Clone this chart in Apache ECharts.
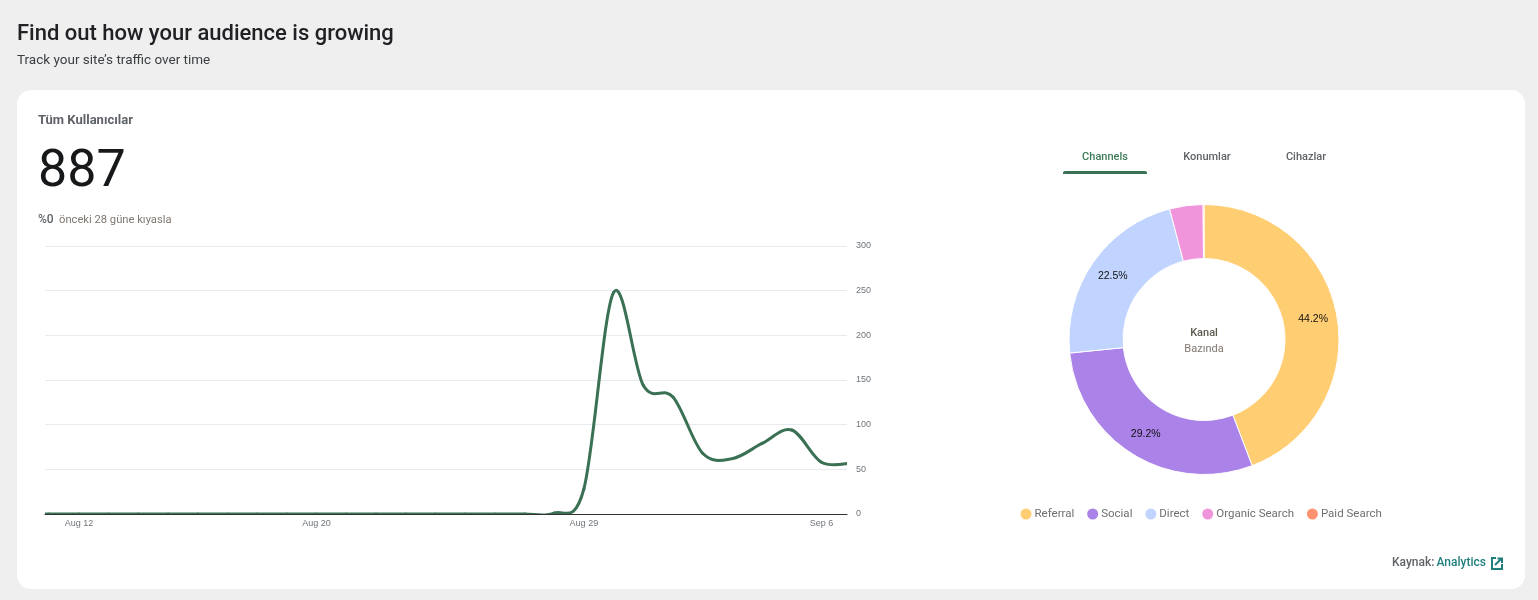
<!DOCTYPE html>
<html><head><meta charset="utf-8">
<style>html,body{margin:0;padding:0;background:#efefef}#c{width:1538px;height:600px}</style>
<script src="https://cdn.jsdelivr.net/npm/echarts@6/dist/echarts.min.js"></script>
</head><body><div id="c"></div>
<script>
const days = ['Aug 10','Aug 11','Aug 12','Aug 13','Aug 14','Aug 15','Aug 16','Aug 17','Aug 18','Aug 19','Aug 20','Aug 21','Aug 22','Aug 23','Aug 24','Aug 25','Aug 26','Aug 27','Aug 28','Aug 29','Aug 30','Aug 31','Sep 1','Sep 2','Sep 3','Sep 4','Sep 5','Sep 6','Sep 7'];
const users = [0,0,0,0,0,0,0,0,0,0,0,0,0,0,0,0,0,0,1,28,248,144,131,68,62,79,94,58,57];
const tickDays = [2,10,19,27];
const channels = ['Referral','Social','Direct','Organic Search','Paid Search'];
const shares = [44.2,29.2,22.5,4.0,0.1];
const channelColors = ['#ffce73','#aa82e8','#c0d4ff','#f095dc','#ff9270'];
const tabs = ['Channels','Konumlar','Cihazlar'];

const SANS = 'Roboto, "Noto Sans", sans-serif';
const TENSION = 1/6;
const t = (x,y,text,size,fill,weight,align,family) => ({type:'text',z:5,x,y,style:{text,font:`${weight||400} ${size}px ${family||SANS}`,fill,align:align||'left',verticalAlign:'middle'}});
const iconStroke = {stroke:'#1f7f7c',lineWidth:2,fill:null};

// Draws one curved segment between neighbouring days, positioned by the axes.
function renderSegment(params, api){
  const i = params.dataIndex, n = users.length;
  if (i >= n-1) return null;
  const p = k => api.coord([Math.max(0,Math.min(n-1,k)), users[Math.max(0,Math.min(n-1,k))]]);
  const a = p(i-1), b = p(i), c = p(i+1), d = p(i+2);
  return {type:'bezierCurve',
    shape:{x1:b[0],y1:b[1],x2:c[0],y2:c[1],
      cpx1:b[0]+(c[0]-a[0])*TENSION,cpy1:b[1]+(c[1]-a[1])*TENSION,
      cpx2:c[0]-(d[0]-b[0])*TENSION,cpy2:c[1]-(d[1]-b[1])*TENSION},
    style:{stroke:'#3a7053',lineWidth:3,fill:null,lineCap:'round'}};
}

const chart = echarts.init(document.getElementById('c'),null,{renderer:'canvas'});
chart.setOption({
  animation:false,
  backgroundColor:'#efefef',
  textStyle:{fontFamily:SANS},
  graphic:[
    {type:'rect',z:-10,shape:{x:17,y:90,width:1508,height:499,r:14},style:{fill:'#fff'}},
    t(17,34.5,'Find out how your audience is growing',22,'#202124',500),
    t(17,60.5,'Track your site\u2019s traffic over time',13.5,'#3c4043'),
    t(38,120.5,'T\u00fcm Kullan\u0131c\u0131lar',13,'#5f6368',700),
    t(38,173,'887',52,'#16181a',400),
    t(38,220,'%0',12,'#5f6368',500),
    t(59,220,'\u00f6nceki 28 g\u00fcne k\u0131yasla',11.2,'#80776f'),
    t(1105,157,tabs[0],11,'#3c7a58',500,'center'),
    t(1207,157,tabs[1],11,'#5f6368',500,'center'),
    t(1306,157,tabs[2],11,'#5f6368',500,'center'),
    {type:'rect',z:5,shape:{x:1063,y:171,width:84,height:3,r:[2,2,0,0]},style:{fill:'#3a7053'}},
    t(1204,333,'Kanal',11,'#5f5a50',500,'center'),
    t(1204,349,'Baz\u0131nda',11,'#80776f',400,'center'),
    t(1392,563,'Kaynak:',12,'#5f6368',500),
    t(1436.5,563,'Analytics',12,'#1f7f7c',500),
    {type:'polyline',z:5,shape:{points:[[1496,558],[1492,558],[1492,569],[1502,569],[1502,564]]},style:iconStroke},
    {type:'polyline',z:5,shape:{points:[[1495,565],[1501,559]]},style:iconStroke},
    {type:'polyline',z:5,shape:{points:[[1497.5,558.5],[1502,558.5],[1502,563]]},style:iconStroke}
  ],
  grid:{left:45,right:691,top:246,bottom:86,containLabel:false},
  xAxis:{type:'value',min:0.855,max:27.86,
    axisLine:{show:true,onZero:false,lineStyle:{color:'#333',width:1}},
    axisTick:{show:false},splitLine:{show:false},
    axisLabel:{customValues:tickDays,formatter:v=>days[v],color:'#70757a',fontSize:9,fontFamily:'"Liberation Sans",Arial,sans-serif',margin:5,hideOverlap:false}},
  yAxis:{type:'value',position:'right',min:0,max:300,interval:50,
    axisLine:{show:false},axisTick:{show:false},
    splitLine:{lineStyle:{color:'#e9e9f0',width:1}},
    axisLabel:{color:'#70757a',fontSize:9,fontFamily:'"Liberation Sans",Arial,sans-serif',margin:9,padding:[4,0,0,0]}},
  legend:{data:channels,left:1018.5,top:506.5,padding:0,icon:'circle',itemWidth:13,itemHeight:13,itemGap:10.9,
    textStyle:{color:'#6f6f6f',fontSize:11.5,padding:[0,0,0,-3]},selectedMode:false},
  series:[
    {type:'custom',name:'Kullan\u0131c\u0131lar',data:users.map((v,i)=>[i,v]),encode:{x:0,y:1},renderItem:renderSegment,clip:true,z:4,silent:true},
    {type:'pie',name:'Kanal',center:[1204,339.5],radius:[81,135],startAngle:90,clockwise:true,
      data:channels.map((n,i)=>({name:n,value:shares[i],itemStyle:{color:channelColors[i]}})),
      itemStyle:{borderColor:'#fff',borderWidth:1},
      label:{position:'inside',color:'#111',fontSize:10.5,fontFamily:'"Liberation Sans",Arial,sans-serif',
        formatter:p=>p.value>5?p.value.toFixed(1)+'%':''},
      labelLine:{show:false},silent:true}
  ]
});
</script></body></html>
